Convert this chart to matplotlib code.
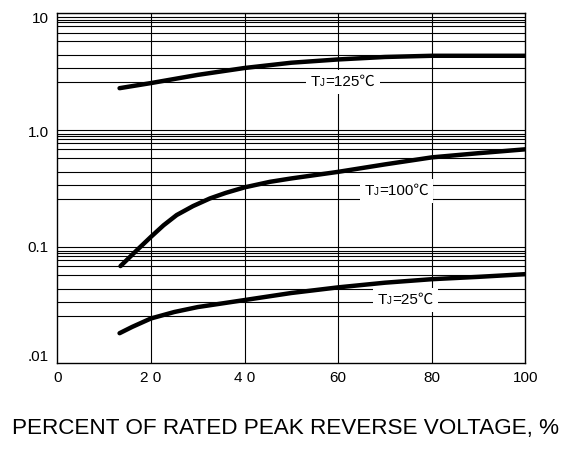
import matplotlib
matplotlib.use("Agg")
import matplotlib.pyplot as plt
from matplotlib.offsetbox import TextArea, HPacker, AnnotationBbox

# ---- data ----
x_125 = [13.3, 20, 30, 40, 50, 60, 70, 80, 90, 100]
y_125 = [2.27, 2.51, 2.95, 3.38, 3.75, 4.0, 4.2, 4.3, 4.3, 4.3]

x_100 = [13.5, 17, 20, 22.7, 25.5, 29, 32.6, 36, 40, 45.4, 50, 60, 70, 80, 90, 100]
y_100 = [0.068, 0.093, 0.121, 0.152, 0.186, 0.222, 0.258, 0.288, 0.321, 0.358, 0.383,
         0.436, 0.505, 0.58, 0.63, 0.68]

x_25 = [13.3, 16, 20, 25, 30, 40, 50, 60, 70, 80, 90, 100]
y_25 = [0.0181, 0.0205, 0.0242, 0.0275, 0.0303, 0.0348, 0.040, 0.0447, 0.049, 0.0525, 0.055, 0.058]

decade_tops = [10, 1, 0.1]
grid_factors = [0.919, 0.876, 0.829, 0.771, 0.679, 0.575, 0.437, 0.335, 0.256]
vgrid = [20, 40, 60, 80]

xticks = [0, 20, 40, 60, 80, 100]
xticklabels = ["0", "2 0", "4 0", "60", "80", "100"]
ytick_pos = [0.0117, 0.1, 0.961, 9.06]
yticklabels = [".01", "0.1", "1.0", "10"]

label_temps = ["125", "100", "25"]
label_x = [61, 72.5, 74.4]
label_y = [2.57, 0.30, 0.0348]

xlabel = "PERCENT OF RATED PEAK REVERSE VOLTAGE, %"

# ---- plot ----
FAM = ['Liberation Sans', 'Noto Sans CJK SC', 'DejaVu Sans']
plt.rcParams['font.family'] = FAM
fig = plt.figure(figsize=(5.72, 4.72), dpi=100)
ax = fig.add_axes([0.1002, 0.2303, 0.8182, 0.7422])
ax.set_yscale('log')
ax.set_xlim(0, 100)
ax.set_ylim(0.01, 10)

for top in decade_tops:
    ax.axhline(top, color='black', lw=0.8, zorder=1)
    for f in grid_factors:
        ax.axhline(top * f, color='black', lw=0.8, zorder=1)
for v in vgrid:
    ax.axvline(v, color='black', lw=0.8, zorder=1)

for xs, ys in [(x_125, y_125), (x_100, y_100), (x_25, y_25)]:
    ax.plot(xs, ys, color='black', lw=3.2, solid_capstyle='round',
            solid_joinstyle='round', zorder=3)

for t, lx, ly in zip(label_temps, label_x, label_y):
    parts = [TextArea("T", textprops=dict(fontsize=11, family=FAM)),
             TextArea("J", textprops=dict(fontsize=7, family=FAM)),
             TextArea("=" + t + "℃", textprops=dict(fontsize=11, family=FAM))]
    box = HPacker(children=parts, align="baseline", pad=0, sep=0)
    ab = AnnotationBbox(box, (lx, ly), xycoords='data', frameon=True,
                        pad=0.35, box_alignment=(0.5, 0.5), zorder=4,
                        bboxprops=dict(facecolor='white', edgecolor='none'))
    ax.add_artist(ab)

ax.set_xticks(xticks)
ax.set_xticklabels(xticklabels)
ax.set_yticks(ytick_pos)
ax.set_yticklabels(yticklabels)
ax.minorticks_off()
ax.tick_params(length=0, labelsize=11)
ax.tick_params(axis='x', pad=5.5)
ax.tick_params(axis='y', pad=6)
for s in ax.spines.values():
    s.set_linewidth(1.0)
    s.set_zorder(5)

fig.text(0.5, 0.0932, xlabel, ha='center', va='center', fontsize=16.2)

fig.savefig("out.png", dpi=100)
